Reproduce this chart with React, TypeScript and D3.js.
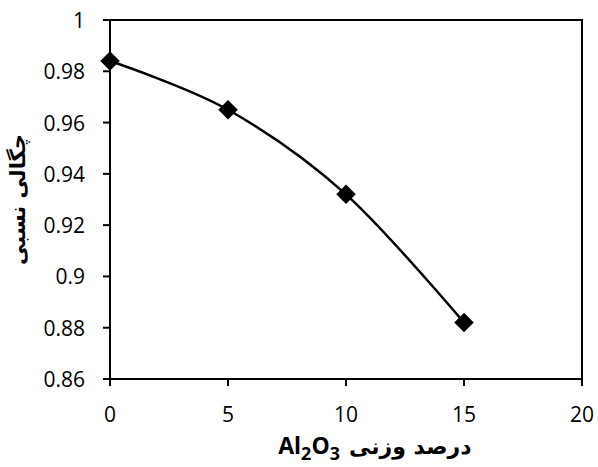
import * as d3 from "d3";
import { useEffect, useRef } from "react";

// wt% Al2O3 vs relative density
const alumina = [0, 5, 10, 15];
const density = [0.984, 0.965, 0.932, 0.882];
const xTicks = [0, 5, 10, 15, 20];
const yTicks = [0.86, 0.88, 0.9, 0.92, 0.94, 0.96, 0.98, 1];

const W = 598;
const H = 467;
const TICK_FONT = "21px 'Open Sans', Lato, sans-serif";
const FA_FONT = "bold 21px 'DejaVu Sans', 'Noto Sans', sans-serif";

const App = () => {
  const svgRef = useRef<SVGSVGElement>(null);

  useEffect(() => {
    const svgEl = svgRef.current;
    if (!svgEl) return;
    const svg = d3.select(svgEl);
    svg.selectAll("*").remove();

    const margin = { top: 20, right: 16, bottom: 88, left: 110 };
    const innerW = W - margin.left - margin.right;
    const innerH = H - margin.top - margin.bottom;

    const x = d3.scaleLinear().domain([0, 20]).range([0, innerW]);
    const y = d3.scaleLinear().domain([0.86, 1]).range([innerH, 0]);

    const g = svg
      .append("g")
      .attr("transform", `translate(${margin.left},${margin.top})`);

    // frame
    g.append("rect")
      .attr("x", 0)
      .attr("y", 0)
      .attr("width", innerW)
      .attr("height", innerH)
      .attr("fill", "none")
      .attr("stroke", "#000")
      .attr("stroke-width", 2);

    // y ticks + labels
    g.selectAll("line.tick-y")
      .data(yTicks)
      .enter()
      .append("line")
      .attr("x1", -7)
      .attr("x2", 0)
      .attr("y1", (t) => y(t))
      .attr("y2", (t) => y(t))
      .attr("stroke", "#000")
      .attr("stroke-width", 2);
    g.selectAll("text.tick-y")
      .data(yTicks)
      .enter()
      .append("text")
      .attr("x", -25)
      .attr("y", (t) => y(t))
      .attr("text-anchor", "end")
      .attr("dominant-baseline", "central")
      .style("font", TICK_FONT)
      .text((t) => String(t));

    // x ticks + labels
    g.selectAll("line.tick-x")
      .data(xTicks)
      .enter()
      .append("line")
      .attr("x1", (t) => x(t))
      .attr("x2", (t) => x(t))
      .attr("y1", innerH)
      .attr("y2", innerH + 7)
      .attr("stroke", "#000")
      .attr("stroke-width", 2);
    g.selectAll("text.tick-x")
      .data(xTicks)
      .enter()
      .append("text")
      .attr("x", (t) => x(t))
      .attr("y", innerH + 43)
      .attr("text-anchor", "middle")
      .style("font", TICK_FONT)
      .text((t) => String(t));

    const pts = alumina.map((a, i) => [x(a), y(density[i])] as [number, number]);

    // smoothed line
    const line = d3.line().curve(d3.curveCatmullRom.alpha(0));
    g.append("path")
      .attr("d", line(pts))
      .attr("fill", "none")
      .attr("stroke", "#000")
      .attr("stroke-width", 2.5);

    // diamond markers
    const diamond = d3.symbol().type(d3.symbolSquare).size(190);
    g.selectAll("path.marker")
      .data(pts)
      .enter()
      .append("path")
      .attr("d", diamond())
      .attr("transform", (p) => `translate(${p[0]},${p[1]}) rotate(45)`)
      .attr("fill", "#000");

    // x-axis title: Persian words + Al2O3 formula
    const xt = svg.append("g").attr("transform", `translate(0, 454)`);
    xt.append("text")
      .attr("x", 349)
      .attr("y", 0)
      .attr("text-anchor", "start")
      .style("font", "bold 22px 'DejaVu Sans', 'Noto Sans', sans-serif")
      .text("درصد وزنی");
    const formula = xt
      .append("text")
      .attr("x", 340)
      .attr("y", 0)
      .attr("text-anchor", "end")
      .style("font", "bold 23px 'Open Sans', sans-serif");
    formula.append("tspan").text("Al");
    formula.append("tspan").attr("dy", 6).style("font-size", "18px").text("2");
    formula.append("tspan").attr("dy", -6).text("O");
    formula.append("tspan").attr("dy", 6).style("font-size", "18px").text("3");

    // y-axis title
    svg
      .append("text")
      .attr("transform", `translate(25, ${margin.top + innerH / 2}) rotate(-90)`)
      .attr("text-anchor", "middle")
      .style("font", FA_FONT)
      .text("چگالی نسبی");
  }, []);

  return (
    <svg
      ref={svgRef}
      width={W}
      height={H}
      style={{ position: "absolute", left: 0, top: 0, display: "block" }}
    />
  );
};

export default App;
